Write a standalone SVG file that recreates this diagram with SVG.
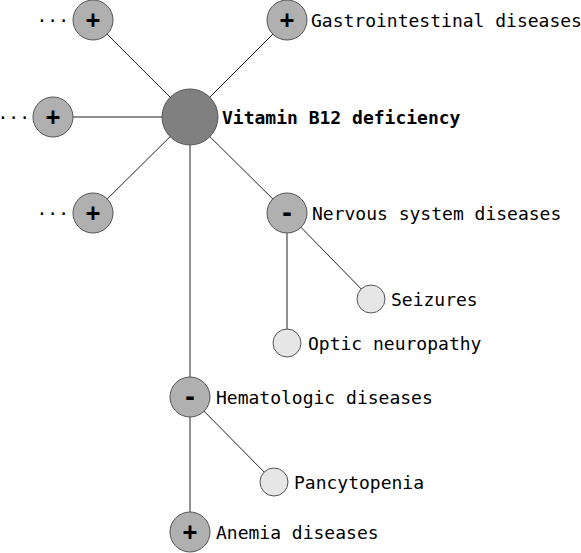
<svg xmlns="http://www.w3.org/2000/svg" width="581" height="553" viewBox="0 0 581 553">
<style>
text{font-family:"DejaVu Sans Mono","Liberation Mono",monospace;font-size:18px;fill:#000;dominant-baseline:central}
.b{font-weight:bold}
.sign{font-weight:bold;text-anchor:middle;font-size:24px}
.dots{text-anchor:end}
.c{stroke:#555;stroke-width:1}
.root{fill:#808080}
.mid{fill:#b0b0b0}
.leaf{fill:#e6e6e6}
.edges line{stroke:#222;stroke-width:1}
</style>
<rect width="581" height="553" fill="#fff"/>
<g class="edges" id="connectors">
<line x1="190" y1="117" x2="93" y2="20"/>
<line x1="190" y1="117" x2="287" y2="20"/>
<line x1="190" y1="117" x2="53" y2="117"/>
<line x1="190" y1="117" x2="93" y2="213"/>
<line x1="190" y1="117" x2="287" y2="213"/>
<line x1="190" y1="117" x2="190" y2="397"/>
<line x1="287" y1="213" x2="371" y2="299"/>
<line x1="287" y1="213" x2="287" y2="343"/>
<line x1="190" y1="397" x2="274" y2="482"/>
<line x1="190" y1="397" x2="190" y2="532"/>
</g>
<g id="root"><circle class="c root" cx="190" cy="117" r="28"/><text class="b" x="222" y="117">Vitamin B12 deficiency</text></g>
<g id="n-topleft"><circle class="c mid" cx="93" cy="20" r="20"/><text class="sign" x="93" y="20">+</text><text class="dots" x="69" y="20">···</text></g>
<g id="n-left"><circle class="c mid" cx="53" cy="117" r="20"/><text class="sign" x="53" y="117">+</text><text class="dots" x="30" y="117">···</text></g>
<g id="n-bottomleft"><circle class="c mid" cx="93" cy="213" r="20"/><text class="sign" x="93" y="213">+</text><text class="dots" x="69" y="213">···</text></g>
<g id="n-gastro"><circle class="c mid" cx="287" cy="20" r="20"/><text class="sign" x="287" y="20">+</text><text x="311" y="20">Gastrointestinal diseases</text></g>
<g id="n-nervous"><circle class="c mid" cx="287" cy="213" r="20"/><text class="sign" x="287" y="213">-</text><text x="312" y="213">Nervous system diseases</text></g>
<g id="n-seizures"><circle class="c leaf" cx="371" cy="299" r="14"/><text x="391" y="299">Seizures</text></g>
<g id="n-optic"><circle class="c leaf" cx="287" cy="343" r="14"/><text x="308" y="343">Optic neuropathy</text></g>
<g id="n-hemato"><circle class="c mid" cx="190" cy="397" r="20"/><text class="sign" x="190" y="397">-</text><text x="216" y="397">Hematologic diseases</text></g>
<g id="n-pancy"><circle class="c leaf" cx="274" cy="482" r="14"/><text x="294" y="482">Pancytopenia</text></g>
<g id="n-anemia"><circle class="c mid" cx="190" cy="532" r="20"/><text class="sign" x="190" y="532">+</text><text x="216" y="532">Anemia diseases</text></g>
</svg>
